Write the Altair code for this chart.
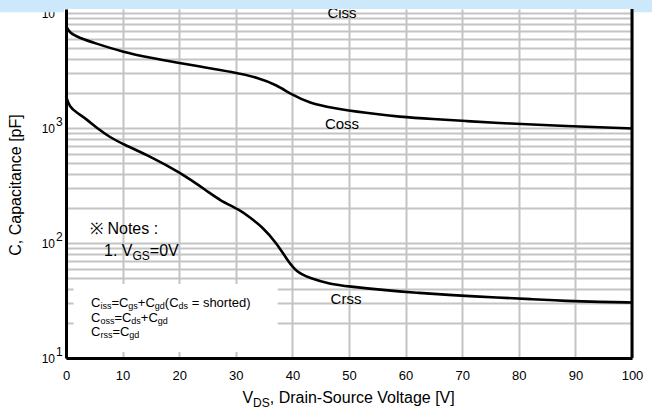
import altair as alt
import pandas as pd

# ---------------- data ----------------
coss_v = [0, 0.6, 2.4, 5, 10, 15, 20, 23.6, 29.4, 34.2, 37.2, 40, 43, 47, 53, 59, 64.8, 70.7, 76.6, 82.4, 88.4, 94.3, 100]
coss_c = [7800, 6700, 6060, 5490, 4580, 4060, 3675, 3425, 3070, 2720, 2365, 1935, 1650, 1493, 1350, 1250, 1195, 1150, 1104, 1072, 1040, 1015, 990]

crss_v = [0, 0.6, 2, 3.6, 5.9, 7.7, 10, 15.1, 20, 25, 27.1, 30.7, 32.4, 34.7, 37.2, 39.1, 40.7, 43, 46.6, 50, 56, 62, 67.8, 76.6, 82.4, 88.4, 94.3, 100]
crss_c = [1897, 1523, 1350, 1197, 961, 835, 726, 560, 414, 282, 236, 194, 168, 138, 100, 71, 56, 49.6, 44, 41.9, 39, 36.9, 35.3, 33.4, 32.5, 31.3, 30.7, 30.4]

x_ticks = list(range(0, 101, 5))
y_ticks = [m * 10 ** e for e in range(1, 4) for m in range(1, 10)] + [10000]
decades = [10, 100, 1000, 10000]
exponents = ["1", "2", "3", "4"]
note_box_v = [1.33, 37.4]
note_box_c = [44, 11.3]

# ---------------- layout ----------------
W, H = 566, 349
PAD_L, PAD_T = 66, 9
FONT = "Liberation Sans"
GRID = "#c4c4c4"
BAND = "#cbe9fb"

xscale = alt.Scale(domain=[0, 100], nice=False, zero=False)
yscale = alt.Scale(type="log", domain=[10, 10834], nice=False)

df = pd.DataFrame(
    {"v": coss_v + crss_v, "c": coss_c + crss_c,
     "s": ["Coss"] * len(coss_v) + ["Crss"] * len(crss_v)}
)

x_axis = alt.Axis(values=x_ticks, grid=True, gridColor=GRID, gridWidth=2, ticks=False,
                  labelExpr="datum.value % 10 == 0 ? datum.label : ''",
                  labelFlush=False, labelOverlap=False, labelFont=FONT, labelFontSize=13,
                  labelColor="black", labelPadding=11, domainColor="black", domainWidth=3,
                  title=None, zindex=0)
y_axis = alt.Axis(values=y_ticks, grid=True, gridColor=GRID, gridWidth=2, ticks=False,
                  labels=False, domainColor="black", domainWidth=3, title=None, zindex=0)

one = pd.DataFrame({"a": [0]})

box = alt.Chart(one).mark_rect(fill="white").encode(
    x=alt.datum(note_box_v[0], scale=xscale, axis=x_axis),
    x2=alt.datum(note_box_v[1]),
    y=alt.datum(note_box_c[0], scale=yscale, axis=y_axis),
    y2=alt.datum(note_box_c[1]),
)

curves = alt.Chart(df).mark_line(color="black", strokeWidth=2.6, interpolate="basis").encode(
    x=alt.X("v:Q", scale=xscale, axis=x_axis),
    y=alt.Y("c:Q", scale=yscale, axis=y_axis),
    detail="s:N",
)

right_edge = alt.Chart(one).mark_rule(color="black", strokeWidth=3).encode(
    x=alt.datum(100), y=alt.value(0), y2=alt.value(H)
)

lab_df = pd.DataFrame({"c": decades, "e": exponents})
ylab_base = alt.Chart(lab_df).mark_text(text="10", align="right", baseline="middle",
                                        font=FONT, fontSize=12, dy=1, color="black").encode(
    y=alt.Y("c:Q", scale=yscale), x=alt.value(-11))
ylab_exp = alt.Chart(lab_df).mark_text(align="left", baseline="middle",
                                       font=FONT, fontSize=12, dy=-6, color="black").encode(
    y=alt.Y("c:Q", scale=yscale), x=alt.value(-10), text="e:N")

# Arial / Liberation Sans advance widths (per em)
AW = {" ": .278, "(": .333, ")": .333, "+": .584, "=": .584, ",": .278, ".": .278, ":": .278,
      "0": .556, "1": .556, "C": .722, "D": .722, "G": .778, "S": .667, "V": .667, "N": .722,
      "a": .556, "d": .556, "e": .556, "g": .556, "h": .556, "i": .222, "o": .556, "r": .333,
      "s": .5, "t": .278, "u": .556, "n": .556, "c": .5, "l": .222, "-": .333, "[": .278,
      "]": .278, "F": .611, "p": .556}


def tw(s, size):
    return sum(AW.get(ch, .556) for ch in s) * size


texts = []


def add_segments(segs, x0, y, size, sub_size, sub_dy):
    x = x0
    for s, sub in segs:
        fs = sub_size if sub else size
        lead = len(s) - len(s.lstrip(" "))
        x += tw(" " * lead, fs)
        body = s.lstrip(" ")
        texts.append(dict(t=body, x=x, y=y + (sub_dy if sub else 0), fs=fs))
        x += tw(body, fs)


# x-axis title with subscript
xt = [("V", 0), ("DS", 1), (", Drain-Source Voltage [V]", 0)]
xt_w = sum(tw(s, 12 if b else 16) for s, b in xt)
add_segments(xt, 349 - PAD_L - xt_w / 2, 389, 16, 12, 5)

# notes
texts.append(dict(t="※ Notes :", x=24, y=220, fs=16))
add_segments([("1. V", 0), ("GS", 1), ("=0V", 0)], 38, 242, 16, 12, 5)

# formula box
add_segments([("C", 0), ("iss", 1), ("=C", 0), ("gs", 1), ("+C", 0), ("gd", 1), ("(C", 0),
              ("ds", 1), (" = shorted)", 0)], 25, 294, 13, 9, 3)
add_segments([("C", 0), ("oss", 1), ("=C", 0), ("ds", 1), ("+C", 0), ("gd", 1)], 25, 309, 13, 9, 3)
add_segments([("C", 0), ("rss", 1), ("=C", 0), ("gd", 1)], 25, 323, 13, 9, 3)

text_layers = []
for d in texts:
    text_layers.append(
        alt.Chart(one).mark_text(text=d["t"], align="left", baseline="middle", font=FONT,
                                 fontSize=d["fs"], color="black").encode(
            x=alt.value(d["x"]), y=alt.value(d["y"]))
    )

# curve labels
for t, x, y in [("Ciss", 276, 3.5), ("Coss", 276, 115), ("Crss", 280, 290)]:
    text_layers.append(
        alt.Chart(one).mark_text(text=t, align="center", baseline="middle", font=FONT,
                                 fontSize=15, color="black").encode(
            x=alt.value(x), y=alt.value(y))
    )

# y axis title
text_layers.append(
    alt.Chart(one).mark_text(text="C, Capacitance [pF]", angle=270, align="center",
                             baseline="middle", font=FONT, fontSize=16, color="black").encode(
        x=alt.value(16 - PAD_L), y=alt.value(185 - PAD_T))
)

# light blue band across the top of the window
band = []
for x1, x2, y1, y2 in [(-PAD_L, 600, -PAD_T, 0), (-PAD_L, -2, -PAD_T, 3.3), (568, 600, -PAD_T, 3.3)]:
    band.append(alt.Chart(one).mark_rect(fill=BAND).encode(
        x=alt.value(x1), x2=alt.value(x2), y=alt.value(y1), y2=alt.value(y2)))

chart = alt.layer(box, curves, right_edge, ylab_base, ylab_exp, *text_layers, *band).properties(
    width=W, height=H,
    padding={"left": PAD_L, "top": PAD_T, "right": 652 - PAD_L - W, "bottom": 415 - PAD_T - H},
    autosize=alt.AutoSizeParams(type="none"),
    background="white",
).configure_view(stroke=None)

chart.save("out.html", embed_options={"renderer": "svg", "actions": False})
